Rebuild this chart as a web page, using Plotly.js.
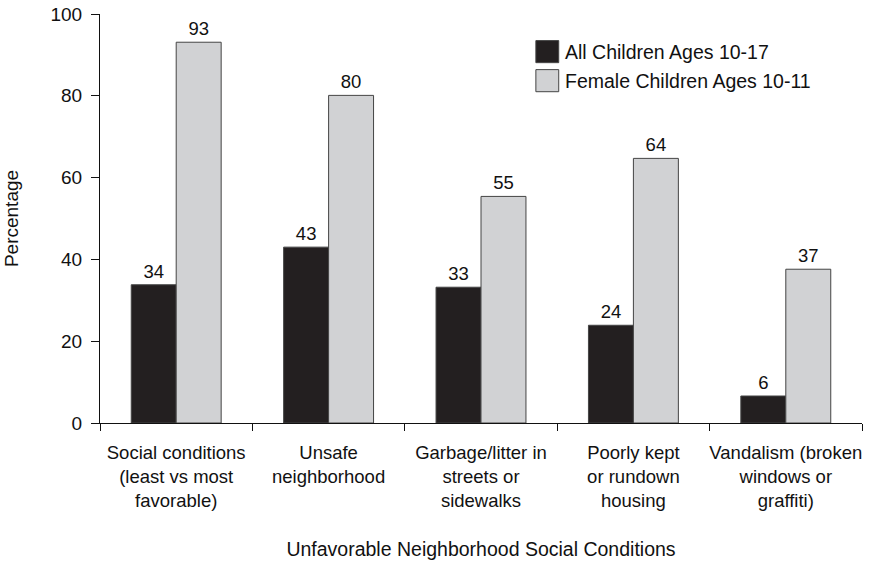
<!DOCTYPE html>
<html>
<head>
<meta charset="utf-8">
<script src="https://cdn.plot.ly/plotly-3.0.1.min.js"></script>
<style>html,body{margin:0;padding:0;background:#fff;}#chart{width:875px;height:566px;}</style>
</head>
<body>
<div id="chart"></div>
<script>
var categories = [
  "Social conditions<br>(least vs most<br>favorable)",
  "Unsafe<br>neighborhood",
  "Garbage/litter in<br>streets or<br>sidewalks",
  "Poorly kept<br>or rundown<br>housing",
  "Vandalism (broken<br>windows or<br>graffiti)"
];
var seriesNames = ["All Children Ages 10-17", "Female Children Ages 10-11"];
var allChildren = [33.8, 43.0, 33.2, 23.9, 6.6];
var allChildrenLabels = ["34", "43", "33", "24", "6"];
var femaleChildren = [93.1, 80.1, 55.4, 64.7, 37.6];
var femaleChildrenLabels = ["93", "80", "55", "64", "37"];
var yTicks = [0, 20, 40, 60, 80, 100];

var FONT = "'Liberation Sans', Arial, Helvetica, sans-serif";
var colors = ["#231f20", "#d1d2d4"];

var traces = [
  {type: "bar", name: seriesNames[0], x: categories, y: allChildren,
   text: allChildrenLabels, textposition: "outside", cliponaxis: false,
   textfont: {family: FONT, size: 18.5, color: "#111"},
   marker: {color: colors[0], line: {color: "#444", width: 1}}, showlegend: false},
  {type: "bar", name: seriesNames[1], x: categories, y: femaleChildren,
   text: femaleChildrenLabels, textposition: "outside", cliponaxis: false,
   textfont: {family: FONT, size: 18.5, color: "#111"},
   marker: {color: colors[1], line: {color: "#444", width: 1}}, showlegend: false}
];

var lx0 = 0.572, lx1 = 0.602, ltx = 0.608;
var rows = [{y0: 0.881, y1: 0.935}, {y0: 0.810, y1: 0.864}];
var shapes = [], annotations = [];
seriesNames.forEach(function (n, i) {
  shapes.push({type: "rect", xref: "paper", yref: "paper", x0: lx0, x1: lx1,
    y0: rows[i].y0, y1: rows[i].y1, fillcolor: colors[i], line: {color: "#444", width: 1}});
  annotations.push({xref: "paper", yref: "paper", x: ltx, y: (rows[i].y0 + rows[i].y1) / 2,
    xanchor: "left", yanchor: "middle", text: n, showarrow: false,
    font: {family: FONT, size: 19.5, color: "#111"}});
});

var layout = {
  width: 875, height: 566,
  margin: {l: 100, r: 13, t: 14, b: 143},
  paper_bgcolor: "#fff", plot_bgcolor: "#fff",
  font: {family: FONT, size: 19, color: "#111"},
  barmode: "group", bargap: 0.41, bargroupgap: 0,
  showlegend: false,
  xaxis: {
    type: "category", showline: true, linecolor: "#111", linewidth: 1,
    ticks: "outside", tickson: "boundaries", ticklen: 7, tickcolor: "#111",
    tickangle: 0, automargin: false, ticklabelstandoff: 13,
    showgrid: false, zeroline: false,
    tickfont: {family: FONT, size: 18.5, color: "#111"},
    title: {text: "Unfavorable Neighborhood Social Conditions", standoff: 32,
            font: {family: FONT, size: 19.5, color: "#111"}}
  },
  yaxis: {
    range: [0, 100], tickvals: yTicks, showline: true, linecolor: "#111", linewidth: 1,
    ticks: "outside", ticklen: 8, tickcolor: "#111", showgrid: false, zeroline: false,
    automargin: false, ticklabelstandoff: 5,
    tickfont: {family: FONT, size: 19, color: "#111"},
    title: {text: "Percentage", standoff: 26, font: {family: FONT, size: 19, color: "#111"}}
  },
  shapes: shapes,
  annotations: annotations
};

Plotly.newPlot("chart", traces, layout, {displayModeBar: false, staticPlot: true});
</script>
</body>
</html>
